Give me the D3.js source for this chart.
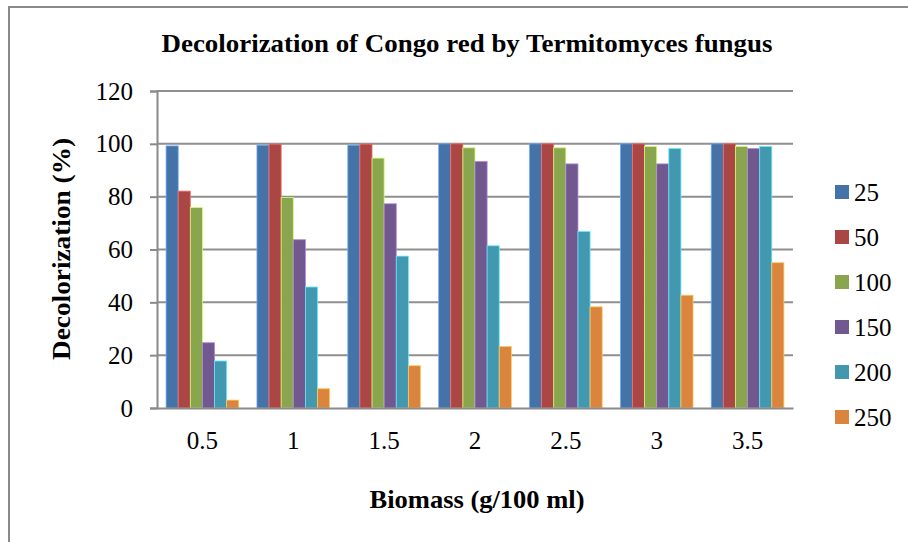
<!DOCTYPE html>
<html><head><meta charset="utf-8">
<script src="https://cdn.jsdelivr.net/npm/d3@7"></script>
<style>body{margin:0;background:#fff}svg{display:block}text{font-family:"Liberation Serif","Times New Roman",serif}</style>
</head><body>
<svg id="c" width="908" height="542"></svg>
<script>
const categories = ["0.5","1","1.5","2","2.5","3","3.5"];
const seriesNames = ["25","50","100","150","200","250"];
const s25  = [99.2, 99.5, 99.5, 100, 100, 100, 100];
const s50  = [82.1, 99.9, 99.9, 100, 100, 100, 100];
const s100 = [75.9, 79.7, 94.6, 98.5, 98.5, 99.0, 99.0];
const s150 = [24.7, 63.7, 77.3, 93.3, 92.4, 92.4, 98.2];
const s200 = [17.8, 45.8, 57.5, 61.4, 66.8, 98.2, 99.0];
const s250 = [3.0, 7.3, 16.0, 23.3, 38.3, 42.7, 55.0];
const seriesValues = [s25, s50, s100, s150, s200, s250];
const yTicks = [0, 20, 40, 60, 80, 100, 120];
const colors = ["#4572A7","#AA4643","#89A54E","#71588F","#4198AF","#DB843D"];
const title = "Decolorization of Congo red by Termitomyces fungus";
const xTitle = "Biomass (g/100 ml)";
const yTitle = "Decolorization (%)";

(function(){
const svg = d3.select("#c");
svg.append("rect").attr("x",9).attr("y",7).attr("width",960).attr("height",600)
  .attr("fill","none").attr("stroke","#8a8a8a").attr("stroke-width",2);

const pL=157, pR=793, pT=91, pB=408;
const y = d3.scaleLinear().domain([0,120]).range([pB, pT]);
const x0 = d3.scaleBand().domain(categories).range([pL,pR]);
const x1 = d3.scaleBand().domain(seriesNames).range([0,x0.bandwidth()]).paddingInner(0).paddingOuter(0.75);

svg.append("g").selectAll("line").data(yTicks.filter(t=>t>0)).join("line")
  .attr("x1",pL).attr("x2",pR).attr("y1",d=>y(d)).attr("y2",d=>y(d))
  .attr("stroke","#8f8f8f").attr("stroke-width",2);

const ya = svg.append("g").attr("transform",`translate(${pL},0)`)
  .call(d3.axisLeft(y).tickValues(yTicks).tickSize(7).tickPadding(17));
ya.select(".domain").attr("stroke","#8a8a8a").attr("stroke-width",2);
ya.selectAll(".tick line").attr("stroke","#8a8a8a").attr("stroke-width",2);
ya.selectAll("text").attr("font-size",25).attr("fill","#000").attr("font-family","Liberation Serif");

const groups = svg.append("g").selectAll("g").data(categories).join("g")
  .attr("transform",d=>`translate(${x0(d)},0)`);
groups.selectAll("rect").data((c,ci)=>seriesNames.map((s,si)=>({s,si,v:seriesValues[si][ci]}))).join("rect")
  .attr("x",d=>x1(d.s)).attr("width",x1.bandwidth())
  .attr("y",d=>y(d.v)).attr("height",d=>y(0)-y(d.v))
  .attr("fill",d=>colors[d.si])
  .attr("stroke",d=>d3.color(colors[d.si]).brighter(1.2)).attr("stroke-width",0.8);

const xa = svg.append("g").attr("transform",`translate(0,${pB})`)
  .call(d3.axisBottom(x0).tickSize(0).tickPadding(23));
xa.select(".domain").attr("stroke","#8a8a8a").attr("stroke-width",2);
xa.selectAll("text").attr("font-size",25).attr("fill","#000").attr("font-family","Liberation Serif");

svg.append("text").attr("x",467).attr("y",52).attr("text-anchor","middle")
  .attr("font-size",25).attr("font-weight","bold")
  .attr("textLength",611).attr("lengthAdjust","spacingAndGlyphs").text(title);
svg.append("text").attr("x",477).attr("y",508).attr("text-anchor","middle")
  .attr("font-size",25).attr("font-weight","bold")
  .attr("textLength",215).attr("lengthAdjust","spacingAndGlyphs").text(xTitle);
svg.append("text").attr("transform","translate(70,249) rotate(-90)").attr("text-anchor","middle")
  .attr("font-size",25).attr("font-weight","bold")
  .attr("textLength",222).attr("lengthAdjust","spacingAndGlyphs").text(yTitle);

const lg = svg.append("g").selectAll("g").data(seriesNames).join("g")
  .attr("transform",(d,i)=>`translate(835,${185+i*45})`);
lg.append("rect").attr("width",14).attr("height",14).attr("fill",(d,i)=>colors[i]);
lg.append("text").attr("x",19).attr("y",16).attr("font-size",25).text(d=>d);
})();
</script>
</body></html>
